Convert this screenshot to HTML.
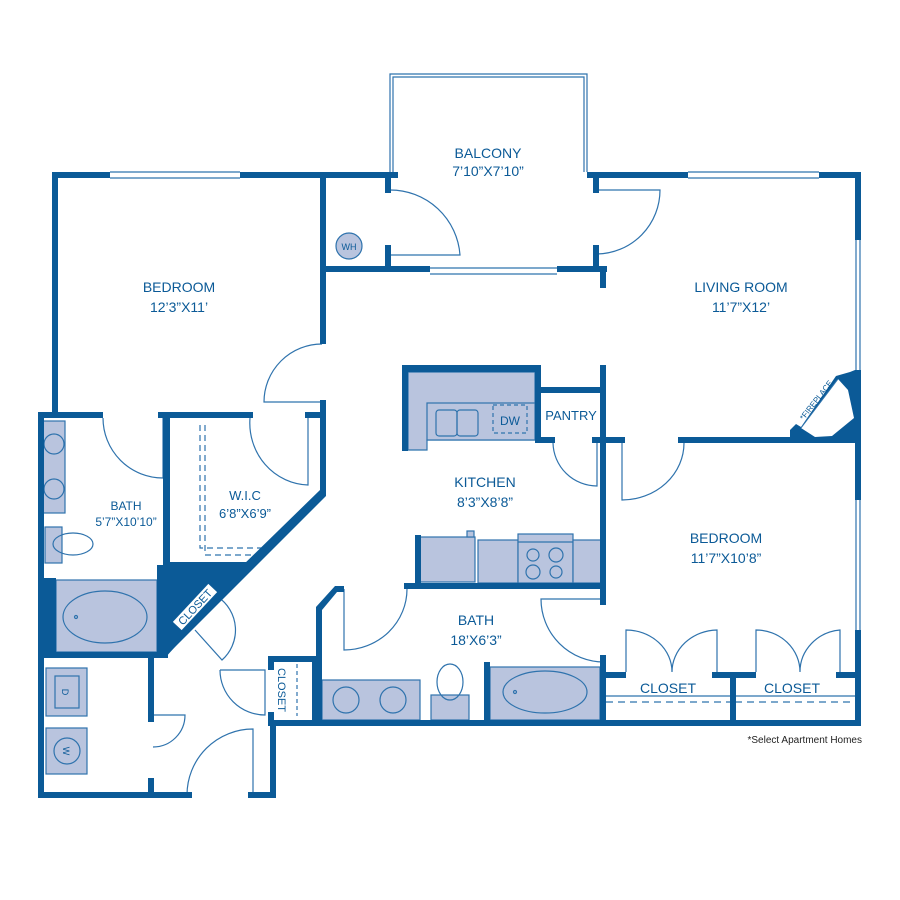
<!DOCTYPE html>
<html><head><meta charset="utf-8"><style>
html,body{margin:0;padding:0;background:#fff;}
svg{display:block;}
text{font-family:"Liberation Sans",Arial,sans-serif;fill:#0b5a97;}
</style></head><body>
<svg width="900" height="900" viewBox="0 0 900 900" xmlns="http://www.w3.org/2000/svg">
<rect width="900" height="900" fill="#fff"/>
<g fill="#b9c4de" stroke="#2f73ad" stroke-width="1.2">
  <path d="M408 372 H535 V440 H427 V450 H408 Z"/>
  <rect x="427" y="403" width="108" height="37"/>
  <rect x="420" y="537" width="55" height="45"/>
  <rect x="478" y="540" width="40" height="43"/>
  <rect x="518" y="534" width="55" height="49"/>
  <rect x="573" y="540" width="28" height="43"/>
  <rect x="467" y="531" width="7" height="6"/>
  <rect x="41" y="421" width="24" height="92"/>
  <rect x="45" y="527" width="17" height="36"/>
  <rect x="56" y="580" width="101" height="72"/>
  <rect x="46" y="668" width="41" height="48"/>
  <rect x="46" y="728" width="41" height="46"/>
  <rect x="322" y="680" width="98" height="40"/>
  <rect x="431" y="695" width="38" height="25"/>
  <rect x="490" y="667" width="110" height="53"/>
  <circle cx="349" cy="246" r="13"/>
</g>
<g fill="none" stroke="#2f73ad" stroke-width="1.2">
  <rect x="436" y="410" width="21" height="26" rx="3"/><rect x="457" y="410" width="21" height="26" rx="3"/>
  <rect x="493" y="405" width="34" height="28" stroke-dasharray="4 3"/>
  <line x1="518" y1="542" x2="573" y2="542"/>
  <circle cx="533" cy="555" r="6"/><circle cx="556" cy="555" r="7"/><circle cx="533" cy="572" r="7"/><circle cx="556" cy="572" r="6"/>
  <circle cx="54" cy="444" r="10"/><circle cx="54" cy="489" r="10"/>
  <ellipse cx="73" cy="544" rx="20" ry="11"/>
  <ellipse cx="105" cy="617" rx="42" ry="26"/>
  <circle cx="76" cy="617" r="1.5"/>
  <rect x="55" y="676" width="24" height="32"/>
  <circle cx="67" cy="751" r="13"/>
  <circle cx="346" cy="700" r="13"/><circle cx="393" cy="700" r="13"/>
  <ellipse cx="450" cy="682" rx="13" ry="18"/>
  <ellipse cx="545" cy="692" rx="42" ry="21"/>
  <circle cx="515" cy="692" r="1.5"/>
  <path d="M390 172 V74 H587 V172 M393 172 V77 H584 V172"/>
  <path d="M110 172 H240 M110 178 H240 M688 172 H819 M688 178 H819 M430 268 H557 M430 274 H557"/>
  <path d="M856 240 V370 M860 240 V370 M856 500 V630 M860 500 V630"/>
  <path d="M390 255 H460 A70 70 0 0 0 390 190"/>
  <path d="M597 190 H660 A64 64 0 0 1 597 254"/>
  <path d="M322 402 H264 A58 58 0 0 1 322 344"/>
  <path d="M163 418 V478 A60 60 0 0 1 103 418"/>
  <path d="M308 418 V485 A60 62 0 0 1 250 418"/>
  <path d="M195 630 L222 660 A40 40 0 0 0 218 597"/>
  <path d="M153 715 H185 A32 32 0 0 1 153 747"/>
  <path d="M253 795 V729 A66 66 0 0 0 187 795"/>
  <path d="M220 670 H265 V715 A45 45 0 0 1 220 670"/>
  <path d="M597 443 V486 A44 44 0 0 1 553 443"/>
  <path d="M622 443 V500 A62 57 0 0 0 684 443"/>
  <path d="M344 589 V650 A63 61 0 0 0 407 589"/>
  <path d="M604 599 H541 A63 63 0 0 0 604 662"/>
  <path d="M626 672 V630 A46 42 0 0 1 672 672 A46 42 0 0 1 717 630 V672"/>
  <path d="M756 672 V630 A44 42 0 0 1 800 672 A44 42 0 0 1 840 630 V672"/>
  <path d="M200 425 V548 H262 M205 425 V555 H258" stroke-dasharray="6 4"/>
  <path d="M297 664 V716" stroke-dasharray="4 3"/>
  <path d="M606 702 H730 M735 702 H855" stroke-dasharray="7 5"/>
  <path d="M606 696 H730 M735 696 H855"/>
</g>
<g fill="#0b5a97">
  <rect x="52" y="172" width="58" height="6"/><rect x="240" y="172" width="158" height="6"/>
  <rect x="587" y="172" width="101" height="6"/><rect x="819" y="172" width="42" height="6"/>
  <rect x="52" y="172" width="6" height="246"/>
  <rect x="320" y="172" width="6" height="172"/>
  <rect x="320" y="266" width="110" height="6"/><rect x="557" y="266" width="50" height="6"/>
  <rect x="385" y="178" width="6" height="15"/><rect x="385" y="245" width="6" height="23"/>
  <rect x="593" y="178" width="6" height="15"/><rect x="593" y="245" width="6" height="23"/>
  <rect x="600" y="266" width="6" height="22"/>
  <rect x="320" y="400" width="6" height="92"/>
  <polygon points="320,490 326,490 326,496 170,652 162,652 162,644"/>
  <polygon points="157,565 248,565 165,658 157,658"/>
  <rect x="38" y="578" width="18" height="80"/>
  <rect x="855" y="172" width="6" height="68"/>
  <polygon points="836,376 850,372 855,370 861,370 861,443 790,443 790,430 796,424 801,427"/>
  <rect x="855" y="440" width="6" height="60"/><rect x="855" y="630" width="6" height="96"/>
  <rect x="678" y="437" width="120" height="6"/><rect x="600" y="437" width="25" height="6"/>
  <rect x="402" y="365" width="139" height="7"/><rect x="402" y="365" width="6" height="86"/>
  <rect x="535" y="365" width="6" height="78"/>
  <rect x="541" y="387" width="61" height="6"/>
  <rect x="535" y="437" width="20" height="6"/><rect x="592" y="437" width="10" height="6"/>
  <rect x="600" y="365" width="6" height="240"/>
  <rect x="415" y="535" width="6" height="49"/>
  <rect x="404" y="583" width="200" height="6"/>
  <polygon points="316,607 316,720 322,720 322,610 337,592 344,592 344,586 335,586"/>
  <rect x="484" y="662" width="6" height="58"/>
  <rect x="600" y="655" width="6" height="71"/>
  <rect x="606" y="672" width="20" height="6"/><rect x="712" y="672" width="44" height="6"/><rect x="836" y="672" width="20" height="6"/>
  <rect x="730" y="672" width="6" height="50"/>
  <rect x="270" y="720" width="591" height="6"/>
  <rect x="268" y="656" width="50" height="6"/><rect x="268" y="656" width="6" height="14"/><rect x="268" y="712" width="6" height="14"/>
  <rect x="312" y="656" width="6" height="70"/>
  <rect x="38" y="412" width="65" height="6"/><rect x="158" y="412" width="95" height="6"/><rect x="305" y="412" width="21" height="6"/>
  <rect x="38" y="412" width="6" height="386"/>
  <rect x="163" y="418" width="7" height="150"/>
  <rect x="163" y="562" width="90" height="6"/>
  <rect x="38" y="652" width="130" height="6"/>
  <rect x="148" y="658" width="6" height="64"/><rect x="148" y="778" width="6" height="20"/>
  <rect x="38" y="792" width="154" height="6"/><rect x="248" y="792" width="28" height="6"/>
  <rect x="270" y="720" width="6" height="78"/>
</g>
<!-- fireplace hearth -->
<polygon points="801,428 838,379 848,390 854,418 832,436 815,437" fill="#fff"/>
<line x1="801" y1="428" x2="838" y2="379" stroke="#2f73ad" stroke-width="1"/>
<g transform="translate(195,607) rotate(-47)">
  <rect x="-26" y="-6" width="52" height="12" fill="#fff"/>
  <text x="0" y="4" font-size="11" text-anchor="middle">CLOSET</text>
</g>
<g transform="translate(282,690) rotate(90)">
  <text x="0" y="4" font-size="11" text-anchor="middle">CLOSET</text>
</g>
<g transform="translate(816,400) rotate(-52)">
  <text x="0" y="3" font-size="8" text-anchor="middle">*FIREPLACE</text>
</g>
<g font-size="14" text-anchor="middle">
  <text x="488" y="158">BALCONY</text><text x="488" y="176">7’10”X7’10”</text>
  <text x="179" y="292">BEDROOM</text><text x="179" y="312">12’3”X11’</text>
  <text x="741" y="292">LIVING ROOM</text><text x="741" y="312">11’7”X12’</text>
  <text x="485" y="487">KITCHEN</text><text x="485" y="507">8’3”X8’8”</text>
  <text x="726" y="543">BEDROOM</text><text x="726" y="563">11’7”X10’8”</text>
  <text x="476" y="625">BATH</text><text x="476" y="645">18’X6’3”</text>
  <text x="668" y="693">CLOSET</text><text x="792" y="693">CLOSET</text>
</g>
<g font-size="12" text-anchor="middle">
  <text x="126" y="510">BATH</text><text x="126" y="526">5’7”X10’10”</text>
  <text x="245" y="500" font-size="13">W.I.C</text><text x="245" y="518" font-size="13">6’8”X6’9”</text>
  <text x="571" y="420" font-size="13">PANTRY</text>
  <text x="510" y="425">DW</text>
  <text x="349" y="250" font-size="9">WH</text>
  <text x="67" y="697" font-size="9" transform="rotate(90 67 692)">D</text>
  <text x="67" y="755" font-size="9" transform="rotate(90 67 751)">W</text>
</g>
<text x="862" y="743" font-size="10" text-anchor="end" style="fill:#222">*Select Apartment Homes</text>
</svg>
</body></html>
